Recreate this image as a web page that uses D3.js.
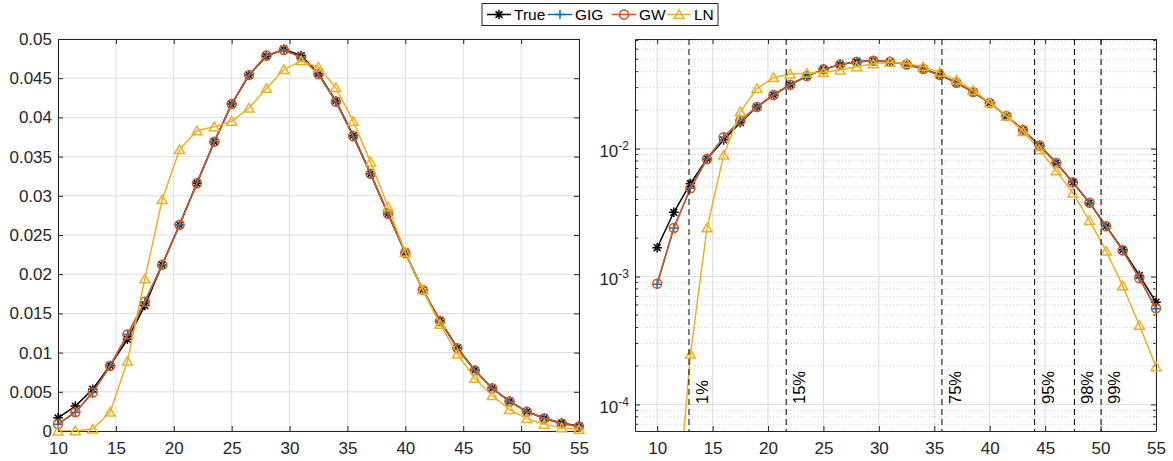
<!DOCTYPE html>
<html>
<head>
<meta charset="utf-8">
<script src="https://cdn.jsdelivr.net/npm/d3@7"></script>
<style>
  body { margin: 0; background: #fff; }
  svg { font-family: 'Liberation Sans', Arial, Helvetica, sans-serif; }
</style>
</head>
<body>
<svg id="chart" width="1173" height="461"></svg>
<script>
// grid of evaluation points
const xs = [10, 11.5, 13, 14.5, 16, 17.5, 19, 20.5, 22, 23.5, 25, 26.5, 28, 29.5, 31, 32.5,
  34, 35.5, 37, 38.5, 40, 41.5, 43, 44.5, 46, 47.5, 49, 50.5, 52, 53.5, 55];

const trueVals = [0.00168, 0.00318, 0.00533, 0.00835, 0.0117, 0.0160, 0.0212, 0.0263, 0.0316,
  0.0369, 0.0417, 0.0454, 0.0478, 0.0487, 0.0479, 0.0456, 0.0421, 0.0377, 0.0328, 0.0277,
  0.0228, 0.0180, 0.0141, 0.0106, 0.00776, 0.00545, 0.00378, 0.00248, 0.00162, 0.00102, 0.00063];

const gigVals = [0.00087, 0.0024, 0.0049, 0.0083, 0.0123, 0.0165, 0.0212, 0.0263, 0.0317,
  0.0369, 0.0417, 0.0454, 0.0479, 0.0486, 0.0477, 0.0455, 0.0420, 0.0376, 0.0328, 0.0277,
  0.0227, 0.0180, 0.0140, 0.01055, 0.00773, 0.00546, 0.00377, 0.00247, 0.00160, 0.00097, 0.00056];

const gwVals = [0.00088, 0.0024, 0.0049, 0.0083, 0.0123, 0.0165, 0.0212, 0.0263, 0.0316,
  0.0369, 0.0417, 0.0454, 0.0479, 0.0486, 0.0477, 0.0455, 0.0420, 0.0376, 0.0328, 0.0277,
  0.0227, 0.0180, 0.0140, 0.01055, 0.00773, 0.00546, 0.00377, 0.00247, 0.00160, 0.00097, 0.000565];

const lnVals = [2e-7, 7e-6, 0.000247, 0.00240, 0.0089, 0.0194, 0.0295, 0.0359, 0.0383,
  0.0388, 0.0395, 0.0412, 0.0437, 0.0461, 0.0472, 0.0464, 0.0438, 0.0395, 0.0343, 0.0286,
  0.0228, 0.0180, 0.0136, 0.0098, 0.0067, 0.00450, 0.00274, 0.00158, 0.000845, 0.000416, 0.000197];

// quantile markers on the log panel
const quantPos = [12.87, 21.64, 35.69, 44.05, 47.64, 50.05];
const quantLabels = ['1%', '15%', '75%', '95%', '98%', '99%'];

const xTicks = [10, 15, 20, 25, 30, 35, 40, 45, 50, 55];
const yTicksLin = [0, 0.005, 0.01, 0.015, 0.02, 0.025, 0.03, 0.035, 0.04, 0.045, 0.05];
const yTicksLog = [1e-4, 1e-3, 1e-2];

const series = [
  { name: 'True', values: trueVals, color: '#000000', marker: 'star' },
  { name: 'GIG', values: gigVals, color: '#0072bd', marker: 'plus' },
  { name: 'GW', values: gwVals, color: '#d95319', marker: 'circle' },
  { name: 'LN', values: lnVals, color: '#edb120', marker: 'triangle' }
];

const axisColor = '#262626';
const svg = d3.select('#chart');
const plotTop = 39;
const plotBottom = 431;

const xL = d3.scaleLinear().domain([10, 55]).range([58, 579]);
const yL = d3.scaleLinear().domain([0, 0.05]).range([plotBottom, plotTop]);
const xR = d3.scaleLinear().domain([8, 55]).range([635, 1156]);
const yR = d3.scaleLog().domain([6.2e-5, 0.072]).range([plotBottom, plotTop]);

function markerPath(type, cx, cy) {
  if (type === 'star') {
    const a = 4.8, b = 3.4;
    return `M${cx - a},${cy}h${2 * a}M${cx},${cy - a}v${2 * a}` +
      `M${cx - b},${cy - b}l${2 * b},${2 * b}M${cx - b},${cy + b}l${2 * b},${-2 * b}`;
  }
  if (type === 'plus') {
    const a = 4.6;
    return `M${cx - a},${cy}h${2 * a}M${cx},${cy - a}v${2 * a}`;
  }
  if (type === 'triangle') {
    return `M${cx},${cy - 4.6}L${cx + 5},${cy + 3.9}L${cx - 5},${cy + 3.9}Z`;
  }
  const r = 4.5;
  return `M${cx - r},${cy}a${r},${r} 0 1,0 ${2 * r},0a${r},${r} 0 1,0 ${-2 * r},0Z`;
}

function drawPanel(id, x, y, isLog) {
  const g = svg.append('g').attr('class', id);
  const [x0, x1] = x.range();

  g.append('clipPath').attr('id', `clip-${id}`)
    .append('rect')
    .attr('x', x0).attr('y', plotTop)
    .attr('width', x1 - x0).attr('height', plotBottom - plotTop);

  // minor grid (log panel only)
  if (isLog) {
    const minors = [];
    [1e-5, 1e-4, 1e-3, 1e-2].forEach(dec => {
      for (let k = 2; k <= 9; k++) minors.push(dec * k);
    });
    const dom = y.domain();
    const minorIn = minors.filter(v => v >= dom[0] && v <= dom[1]);
    g.append('g').selectAll('line')
      .data(minorIn)
      .enter().append('line')
      .attr('x1', x0).attr('x2', x1)
      .attr('y1', d => y(d)).attr('y2', d => y(d))
      .attr('stroke', '#cfcfcf')
      .attr('stroke-dasharray', '1,2');
    // minor ticks on both sides
    g.append('g').selectAll('path')
      .data(minorIn)
      .enter().append('path')
      .attr('d', d => `M${x0},${y(d)}h3M${x1},${y(d)}h-3`)
      .attr('stroke', axisColor);
  }

  const yTicks = isLog ? yTicksLog : yTicksLin;

  // major grid
  g.append('g').selectAll('line.vg')
    .data(xTicks)
    .enter().append('line')
    .attr('x1', d => x(d)).attr('x2', d => x(d))
    .attr('y1', plotTop).attr('y2', plotBottom)
    .attr('stroke', '#dedede');
  g.append('g').selectAll('line.hg')
    .data(yTicks)
    .enter().append('line')
    .attr('x1', x0).attr('x2', x1)
    .attr('y1', d => y(d)).attr('y2', d => y(d))
    .attr('stroke', '#dedede');

  // axes, ticks point inward on all four sides
  const fmtLin = d => (d === 0 ? '0' : String(+d.toFixed(3)));
  g.append('g').attr('transform', `translate(0,${plotBottom})`)
    .call(d3.axisBottom(x).tickValues(xTicks).tickSizeInner(-5).tickSizeOuter(0).tickPadding(11));
  g.append('g').attr('transform', `translate(0,${plotTop})`)
    .call(d3.axisTop(x).tickValues(xTicks).tickSizeInner(-5).tickSizeOuter(0).tickFormat(''));
  const axL = g.append('g').attr('transform', `translate(${x0},0)`)
    .call(d3.axisLeft(y).tickValues(yTicks).tickSizeInner(-5).tickSizeOuter(0).tickPadding(6)
      .tickFormat(isLog ? () => '' : fmtLin));
  g.append('g').attr('transform', `translate(${x1},0)`)
    .call(d3.axisRight(y).tickValues(yTicks).tickSizeInner(-5).tickSizeOuter(0).tickFormat(''));

  g.selectAll('.domain, .tick line').attr('stroke', axisColor);
  g.selectAll('.tick text').attr('fill', axisColor).style('font-size', '17px')
    .style('font-family', "'Liberation Sans', Arial, sans-serif");

  if (isLog) {
    axL.selectAll('.tick').each(function(d) {
      const t = d3.select(this).append('text')
        .attr('x', -6).attr('y', 8)
        .attr('text-anchor', 'end')
        .attr('fill', axisColor)
        .style('font-size', '17px');
      t.append('tspan').text('10');
      t.append('tspan').attr('dy', -7).style('font-size', '12px')
        .text(`-${Math.round(-Math.log10(d))}`);
    });
  }

  // series lines (clipped) then markers (only those within the axes)
  const dom = y.domain();
  series.forEach(s => {
    const pts = xs.map((xv, i) => [xv, s.values[i]]);
    const line = d3.line().x(d => x(d[0])).y(d => y(d[1]));
    g.append('path')
      .datum(pts)
      .attr('clip-path', `url(#clip-${id})`)
      .attr('d', line)
      .attr('fill', 'none')
      .attr('stroke', s.color)
      .attr('stroke-width', 1.5);

    const visible = pts.filter(d => !isLog || (d[1] >= dom[0] && d[1] <= dom[1]));
    g.append('g').selectAll('path')
      .data(visible)
      .enter().append('path')
      .attr('d', d => markerPath(s.marker, x(d[0]), y(d[1])))
      .attr('fill', 'none')
      .attr('stroke', s.color)
      .attr('stroke-width', 1.5);
  });

  if (isLog) {
    const q = g.append('g').selectAll('g')
      .data(quantPos)
      .enter().append('g');
    q.append('line')
      .attr('x1', d => x(d)).attr('x2', d => x(d))
      .attr('y1', plotTop).attr('y2', plotBottom)
      .attr('stroke', '#000')
      .attr('stroke-dasharray', '6,4');
    q.append('text')
      .attr('transform', d => `translate(${x(d) + 19},404) rotate(-90)`)
      .style('font-size', '16.5px')
      .attr('fill', '#000')
      .text((d, i) => quantLabels[i]);
  }
}

drawPanel('lin', xL, yL, false);
drawPanel('log', xR, yR, true);

// legend
const legend = svg.append('g').attr('class', 'legend');
legend.append('rect')
  .attr('x', 482).attr('y', 3.5)
  .attr('width', 236).attr('height', 22)
  .attr('fill', '#fff')
  .attr('stroke', axisColor);
const itemX = [487, 548, 612, 667];
series.forEach((s, i) => {
  const lx = itemX[i];
  const item = legend.append('g');
  item.append('line')
    .attr('x1', lx).attr('x2', lx + 24)
    .attr('y1', 14.5).attr('y2', 14.5)
    .attr('stroke', s.color)
    .attr('stroke-width', 1.5);
  item.append('path')
    .attr('d', markerPath(s.marker, lx + 12, 14.5))
    .attr('fill', 'none')
    .attr('stroke', s.color)
    .attr('stroke-width', 1.5);
  item.append('text')
    .attr('x', lx + 27).attr('y', 20)
    .style('font-size', '15.5px')
    .attr('fill', '#000')
    .text(s.name);
});
</script>
</body>
</html>
